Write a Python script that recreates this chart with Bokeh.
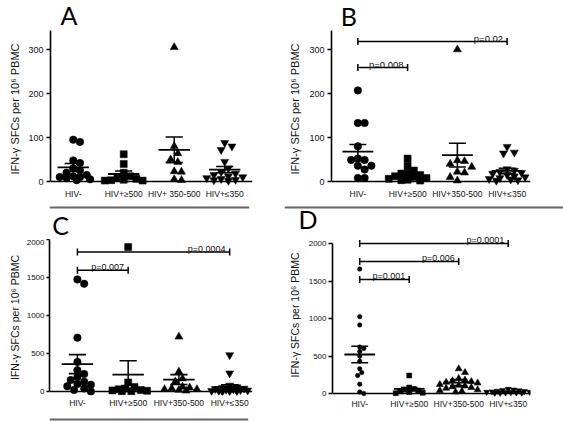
import numpy as np
from bokeh.plotting import figure
from bokeh.models import FixedTicker, Label, ColumnDataSource, Spacer, Span
from bokeh.layouts import row, column
from bokeh.core.properties import value
from bokeh.embed import file_html
from bokeh.resources import INLINE

# ---------------- data ----------------
labels_A = ["HIV-", "HIV+\u2265500", "HIV+ 350-500", "HIV+\u2264350"]
labels_BCD = ["HIV-", "HIV+\u2265500", "HIV+350-500", "HIV+\u2264350"]
y_label = "IFN-\u03b3 SFCs per 10\u2076 PBMC"
panel_letters = ["A", "B", "C", "D"]

A_neg = [95, 90, 48, 42, 30, 25, 20, 15, 12, 10, 10, 8, 5, 3]
A_500 = [62, 40, 20, 12, 8, 6, 4, 3, 2, 2]
A_350_500 = [305, 80, 64, 50, 44, 23, 22, 5, 3]
A_350 = [88, 80, 72, 45, 30, 22, 18, 15, 12, 10, 8, 6, 4, 3, 2]
A_mean = [32, 17, 72, 27]
A_sem = [9, 7, 29, 7]

B_neg = [207, 133, 133, 80, 52, 49, 49, 36, 36, 27, 8, 8]
B_500 = [52, 36, 25, 20, 18, 15, 12, 10, 8, 6, 4, 3, 2]
B_350_500 = [300, 48, 46, 40, 33, 22, 20, 10, 2]
B_350 = [79, 66, 64, 28, 25, 22, 20, 18, 15, 12, 10, 8, 6, 5, 3, 2]
B_mean = [68, 17, 60, 24]
B_sem = [16, 6, 27, 6]
B_pairs_to = [1, 3]
B_pairs_y = [259, 318]
B_pairs_p = ["p=0.008", "p=0.02"]

C_neg = [1475, 1418, 709, 390, 280, 230, 190, 150, 130, 100, 90, 70, 40, 20, 0]
C_500 = [1900, 120, 60, 40, 30, 20, 15, 10, 5, 5]
C_350_500 = [720, 260, 170, 130, 60, 50, 40, 30, 30, 20, 10]
C_350 = [480, 240, 80, 60, 50, 40, 35, 30, 25, 20, 15, 10, 10, 5, 5, 3]
C_mean = [360, 222, 157, 61]
C_sem = [125, 183, 65, 28]
C_pairs_to = [1, 3]
C_pairs_y = [1595, 1834]
C_pairs_p = ["p=0.007", "p=0.0004"]

D_neg = [1660, 1025, 915, 620, 600, 560, 500, 430, 330, 280, 240, 125, 20, 0]
D_500 = [240, 80, 60, 50, 40, 30, 20, 10, 5]
D_350_500 = [330, 280, 200, 180, 170, 160, 150, 140, 120, 110, 100, 90, 80, 70, 50, 40, 30, 20]
D_350 = [60, 50, 45, 40, 35, 30, 25, 20, 20, 15, 10, 10, 5, 5, 3]
D_mean = [520, 62, 145, 25]
D_sem = [110, 18, 40, 6]
D_pairs_to = [1, 2, 3]
D_pairs_y = [1520, 1760, 2000]
D_pairs_p = ["p=0.001", "p=0.006", "p=0.0001"]

y_ticks_AB = [0, 100, 200, 300]
y_ticks_CD = [0, 500, 1000, 1500, 2000]
y_top_AB = 350
y_top_CD = 2000

# ---------------- styling / geometry ----------------
FONT = "Liberation Sans"
LETTER_FONT = "Lato"
SEP_COLOR = "#666666"
TEXT_COLOR = "#111111"
MARKERS = ["circle", "square", "triangle", "inverted_triangle"]


def swarm_offsets(vals, diam, xppu, yppu, max_px):
    n = len(vals)
    order = sorted(range(n), key=lambda k: -vals[k])
    placed = []
    offs = [0.0] * n
    step = diam * 0.45
    cands = [0.0]
    m = 1
    while m * step <= max_px:
        cands += [m * step, -m * step]
        m += 1
    for k in order:
        y = vals[k] * yppu
        best, best_d = 0.0, -1
        chosen = None
        for c in cands:
            d = min([np.hypot(c - px, y - py) for px, py in placed] or [1e9])
            if d >= 0.9 * diam:
                chosen = c
                break
            if d > best_d:
                best, best_d = c, d
        if chosen is None:
            chosen = best
        placed.append((chosen, y))
        offs[k] = chosen / xppu
    return offs


def make_panel(cats, series, means, sems, pairs_to, pairs_y, pairs_p,
               yticks, ytop, g):
    fx, fy, fw, fh = g["fig"]
    fl, fr, ft, fb = g["frame"]
    zero, ppu = g["zero"], g["ppu"]
    x0, x1 = g["xr"]
    y_start = -(fb - zero) / ppu
    y_end = (zero - ft) / ppu
    p = figure(width=fw, height=fh, x_range=(x0, x1), y_range=(y_start, y_end),
               toolbar_location=None, output_backend="svg", title=None,
               min_border_left=fl - fx, min_border_right=fx + fw - fr,
               min_border_top=ft - fy, min_border_bottom=fy + fh - fb)
    p.outline_line_color = None
    p.grid.visible = False
    p.background_fill_color = "white"
    p.border_fill_color = "white"

    xa = p.xaxis[0]
    xa.ticker = FixedTicker(ticks=list(range(len(cats))))
    xa.major_label_overrides = {i: c for i, c in enumerate(cats)}
    xa.axis_line_color = None
    xa.major_tick_line_color = None
    xa.minor_tick_line_color = None
    xa.major_tick_out = 0
    xa.major_tick_in = 0
    xa.major_label_text_font = FONT
    xa.major_label_text_font_size = g["cat_fs"]
    xa.major_label_text_color = TEXT_COLOR
    xa.major_label_standoff = g["cat_so"]
    # x axis line drawn at value zero
    p.add_layout(Span(location=0, dimension="width", line_color="black", line_width=1.6))

    ya = p.yaxis[0]
    ya.ticker = FixedTicker(ticks=yticks)
    ya.bounds = (0, ytop)
    ya.major_tick_out = g["tick_out"]
    ya.major_tick_in = 0
    ya.minor_tick_out = 0
    ya.minor_tick_in = 0
    ya.major_tick_line_width = 1.3
    ya.axis_line_width = 1.6
    ya.axis_line_color = "black"
    ya.major_label_standoff = g["tick_so"]
    ya.major_label_text_font = FONT
    ya.major_label_text_font_size = g["tick_fs"]
    ya.major_label_text_color = TEXT_COLOR
    ya.axis_label = y_label
    ya.axis_label_text_font = FONT
    ya.axis_label_text_font_style = "normal"
    ya.axis_label_text_font_size = g["lab_fs"]
    ya.axis_label_text_color = TEXT_COLOR
    ya.axis_label_standoff = g["lab_so"]

    xppu = (fr - fl) / (x1 - x0)
    for i, vals in enumerate(series):
        sz = g["msize"][i]
        offs = swarm_offsets(vals, sz, xppu, ppu, g["spread"])
        src = ColumnDataSource(dict(x=[i + o for o in offs], y=vals))
        p.scatter("x", "y", source=src, marker=MARKERS[i], size=sz,
                  fill_color="black", line_color="black", line_width=0.5)

    idx = np.arange(len(means), dtype=float)
    m = np.array(means, dtype=float)
    s = np.array(sems, dtype=float)
    p.segment(x0=idx - 0.31, x1=idx + 0.31, y0=m, y1=m, line_width=1.8, line_color="black")
    p.segment(x0=idx, x1=idx, y0=m - s, y1=m + s, line_width=1.5, line_color="black")
    p.segment(x0=idx - 0.17, x1=idx + 0.17, y0=m + s, y1=m + s, line_width=1.6, line_color="black")
    p.segment(x0=idx - 0.17, x1=idx + 0.17, y0=m - s, y1=m - s, line_width=1.6, line_color="black")

    if pairs_to:
        to = np.array(pairs_to, dtype=float)
        yy = np.array(pairs_y, dtype=float)
        start = np.zeros_like(to)
        p.segment(x0=start, x1=to, y0=yy, y1=yy, line_width=1.5, line_color="black")
        p.scatter(x=np.concatenate([start, to]), y=np.concatenate([yy, yy]),
                  marker="dash", angle=np.pi / 2, size=7, line_width=1.5, line_color="black")
        p.text(x=to - 0.08, y=yy, text=pairs_p, text_align="right",
               text_baseline="alphabetic", y_offset=-3.5, text_font=value(FONT),
               text_font_size=g["p_fs"], text_color=TEXT_COLOR)
    return p


def strip(x_abs, y_abs, w, h, letters=(), line_y=None):
    """A thin decoration strip (page pixel coordinates) holding panel letters / rules."""
    p = figure(width=w, height=h, toolbar_location=None, output_backend="svg", title=None,
               x_axis_location=None, y_axis_location=None, min_border=0,
               min_border_left=0, min_border_right=0, min_border_top=0, min_border_bottom=0,
               x_range=(x_abs, x_abs + w), y_range=(y_abs + h, y_abs))
    p.outline_line_color = None
    p.grid.visible = False
    p.background_fill_color = "white"
    p.border_fill_color = "white"
    if line_y is not None:
        p.add_layout(Span(location=line_y, dimension="width", line_color=SEP_COLOR, line_width=2))
    for txt, lx, lc, fs in letters:
        p.add_layout(Label(x=lx, y=lc, text=txt, text_font=LETTER_FONT, text_font_size=fs,
                           text_baseline="middle", text_align="left", text_color="black"))
    return p


gA = dict(fig=(0, 30, 282, 173), frame=(50, 252, 30, 187), zero=181, ppu=0.44,
          xr=(-0.45, 3.55), tick_out=4, tick_so=3, tick_fs="9px", lab_fs="11px", lab_so=4,
          cat_fs="8.5px", cat_so=1, p_fs="9.5px", msize=[7.5, 7, 8, 8], spread=20)
gB = dict(gA, fig=(282, 30, 281, 173), frame=(331, 530, 30, 187), xr=(-0.53, 3.47), lab_so=5)
gC = dict(fig=(0, 239, 282, 171), frame=(49, 252, 239, 396), zero=392, ppu=0.0765,
          xr=(-0.55, 3.45), tick_out=3, tick_so=2, tick_fs="8px", lab_fs="10.5px", lab_so=3,
          cat_fs="8.5px", cat_so=2, p_fs="9px", msize=[7.5, 7, 8, 8], spread=20)
gD = dict(gC, fig=(282, 233, 281, 181), frame=(332, 530, 233, 396), zero=393, ppu=0.075,
          tick_out=4, lab_so=5, msize=[4.5, 5, 7, 6], spread=22)

pA = make_panel(labels_A, [A_neg, A_500, A_350_500, A_350], A_mean, A_sem,
                [], [], [], y_ticks_AB, y_top_AB, gA)
pB = make_panel(labels_BCD, [B_neg, B_500, B_350_500, B_350], B_mean, B_sem,
                B_pairs_to, B_pairs_y, B_pairs_p, y_ticks_AB, y_top_AB, gB)
pC = make_panel(labels_BCD, [C_neg, C_500, C_350_500, C_350], C_mean, C_sem,
                C_pairs_to, C_pairs_y, C_pairs_p, y_ticks_CD, y_top_CD, gC)
pD = make_panel(labels_BCD, [D_neg, D_500, D_350_500, D_350], D_mean, D_sem,
                D_pairs_to, D_pairs_y, D_pairs_p, y_ticks_CD, y_top_CD, gD)

# letters: (text, left x, vertical centre, size) in page pixels
strip_A = strip(0, 0, 282, 30, letters=[(panel_letters[0], 14, 14, "25px")])
strip_B = strip(282, 0, 281, 30, letters=[(panel_letters[1], 295, 15, "25px")])
strip_C = strip(0, 203, 279, 36, letters=[(panel_letters[2], 4, 224, "25px")], line_y=207)
strip_D = strip(284, 203, 279, 30, letters=[(panel_letters[3], 298, 218, "25px")], line_y=207)
strip_bottom = strip(0, 410, 278, 11, line_y=418)

layout = column(
    row(column(strip_A, pA), column(strip_B, pB)),
    row(column(strip_C, pC, strip_bottom),
        column(row(Spacer(width=2, height=30), strip_D), pD)),
)

open("out.html", "w").write(file_html(layout, INLINE))
